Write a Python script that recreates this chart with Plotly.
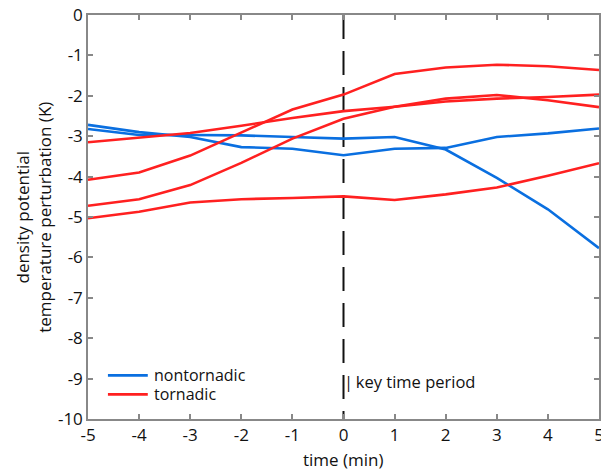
import plotly.graph_objects as go

time = [-5, -4, -3, -2, -1, 0, 1, 2, 3, 4, 5]

nontornadic_a = [-2.72, -2.90, -3.02, -3.27, -3.31, -3.47, -3.31, -3.29, -3.02, -2.93, -2.81]
nontornadic_b = [-2.82, -2.97, -2.97, -2.98, -3.02, -3.06, -3.02, -3.33, -4.03, -4.81, -5.77]

tornadic_1 = [-4.08, -3.90, -3.48, -2.92, -2.34, -1.97, -1.46, -1.30, -1.23, -1.27, -1.36]
tornadic_2 = [-3.15, -3.04, -2.92, -2.74, -2.55, -2.38, -2.27, -2.14, -2.07, -2.03, -1.97]
tornadic_3 = [-4.72, -4.56, -4.21, -3.66, -3.06, -2.57, -2.27, -2.07, -1.98, -2.11, -2.28]
tornadic_4 = [-5.03, -4.87, -4.64, -4.56, -4.53, -4.49, -4.58, -4.44, -4.27, -3.98, -3.67]

x_ticks = [-5, -4, -3, -2, -1, 0, 1, 2, 3, 4, 5]
y_ticks = [0, -1, -2, -3, -4, -5, -6, -7, -8, -9, -10]

series_names = ["nontornadic", "tornadic"]

BLUE = "#0a6fe0"
RED = "#ff2020"
FONT = "Open Sans"
TXT = "#111111"

fig = go.Figure()

# key time period line
fig.add_trace(go.Scatter(x=[0, 0], y=[0, -10], mode="lines",
                         line=dict(color="#111111", width=2, dash="24px,12px"),
                         showlegend=False, hoverinfo="skip"))

for s in [nontornadic_a, nontornadic_b]:
    fig.add_trace(go.Scatter(x=time, y=s, mode="lines", name=series_names[0],
                             showlegend=False, line=dict(color=BLUE, width=2.6)))
for s in [tornadic_1, tornadic_2, tornadic_3, tornadic_4]:
    fig.add_trace(go.Scatter(x=time, y=s, mode="lines", name=series_names[1],
                             showlegend=False, line=dict(color=RED, width=2.6)))

# manual legend
for name, color, yp in [(series_names[0], BLUE, 0.108), (series_names[1], RED, 0.061)]:
    fig.add_shape(type="line", xref="paper", yref="paper",
                  x0=0.039, x1=0.117, y0=yp, y1=yp,
                  line=dict(color=color, width=2.6))
    fig.add_annotation(x=0.125, y=yp, xref="paper", yref="paper", text=name,
                       showarrow=False, xanchor="left", yanchor="middle",
                       font=dict(family=FONT, size=16, color=TXT))

fig.add_annotation(x=0, y=-9.07, xref="x", yref="y", text="|\u2009key time period",
                   showarrow=False, xanchor="left", yanchor="middle", xshift=-2,
                   font=dict(family=FONT, size=16.5, color=TXT))

# axis titles
fig.add_annotation(x=-0.108, y=0.5, xref="paper", yref="paper",
                   text="density potential<br>temperature perturbation (K)",
                   textangle=-90, showarrow=False, xanchor="center", yanchor="middle",
                   font=dict(family=FONT, size=17, color=TXT))
fig.add_annotation(x=0.5, y=-0.1, xref="paper", yref="paper", text="time (min)",
                   showarrow=False, xanchor="center", yanchor="middle",
                   font=dict(family=FONT, size=17, color=TXT))

axis_common = dict(showline=True, linecolor="#888888", linewidth=1.5, mirror="ticks",
                   ticks="inside", ticklen=5, tickcolor="#888888", tickwidth=1.5,
                   showgrid=False, zeroline=False, automargin=False,
                   ticklabeloverflow="allow",
                   tickfont=dict(family=FONT, size=17, color=TXT))

fig.update_xaxes(range=[-5, 5], tickvals=x_ticks, ticktext=[str(v) for v in x_ticks],
                 **axis_common)
fig.update_yaxes(range=[-10, 0], tickvals=y_ticks, ticktext=[str(v) for v in y_ticks],
                 **axis_common)

fig.update_layout(
    width=601, height=470,
    margin=dict(l=88, r=2, t=15, b=51),
    plot_bgcolor="white", paper_bgcolor="white",
    showlegend=False,
    font=dict(family=FONT),
)

fig.write_html("out.html", config={"displayModeBar": False},
               post_script="document.body.style.margin='0';document.body.style.overflow='hidden';")
